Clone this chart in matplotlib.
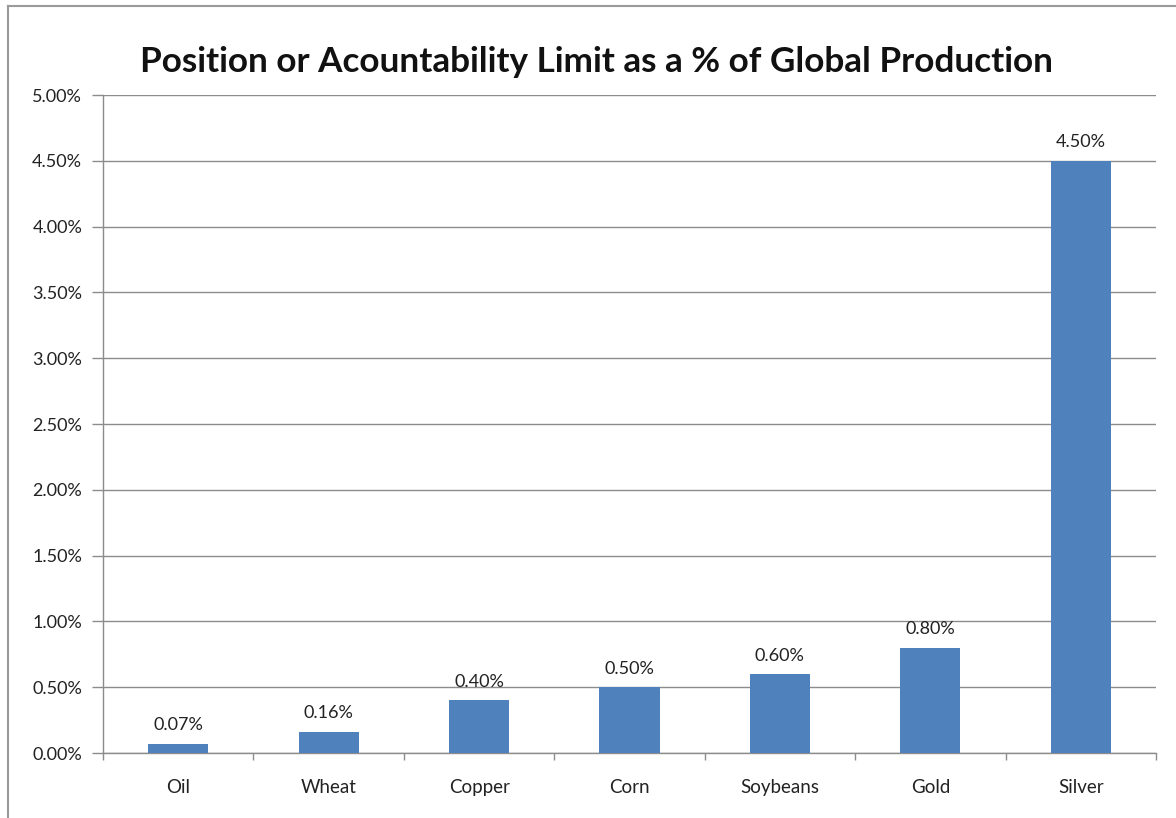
import matplotlib
matplotlib.use("Agg")
import matplotlib.pyplot as plt
from matplotlib.lines import Line2D
import numpy as np

categories = ["Oil", "Wheat", "Copper", "Corn", "Soybeans", "Gold", "Silver"]
values = [0.07, 0.16, 0.40, 0.50, 0.60, 0.80, 4.50]
y_ticks = [0.0, 0.5, 1.0, 1.5, 2.0, 2.5, 3.0, 3.5, 4.0, 4.5, 5.0]
title = "Position or Acountability Limit as a % of Global Production"

plt.rcParams['font.family'] = ['Lato', 'DejaVu Sans']

fig = plt.figure(figsize=(11.76, 8.18), dpi=100)
ax = fig.add_axes([103/1176, 1-753/818, (1156-103)/1176, (753-95)/818])

x = np.arange(len(categories))
bars = ax.bar(x, values, width=0.4, color="#4F81BD", zorder=3)
for xi, v in zip(x, values):
    ax.text(xi, v + 0.08, f"{v:.2f}%", ha="center", va="bottom", fontsize=13, color="#222222")

ax.set_xlim(-0.5, len(categories) - 0.5)
ax.set_ylim(0, 5.0)
ax.set_yticks(y_ticks)
ax.set_yticklabels([f"{t:.2f}%" for t in y_ticks], fontsize=13, color="#222222")
ax.yaxis.grid(True, color="#8c8c8c", linewidth=1.0, zorder=0)
ax.set_axisbelow(True)
ax.tick_params(axis="y", length=8, width=1, color="#8c8c8c", pad=7)

ax.set_xticks(x)
ax.set_xticklabels(categories, fontsize=13.5, color="#222222")
ax.tick_params(axis="x", length=0, pad=19)
# category separator ticks
ax.set_xticks(np.arange(-0.5, len(categories), 1.0), minor=True)
ax.tick_params(axis="x", which="minor", length=5, width=1, color="#8c8c8c")

for s in ["top", "right"]:
    ax.spines[s].set_visible(False)
for s in ["left", "bottom"]:
    ax.spines[s].set_color("#8c8c8c")
    ax.spines[s].set_linewidth(1.0)

fig.text(597/1176, 1-62/818, title, ha="center", va="center", fontsize=25.3, fontweight="bold", color="#111111")

# chart border (left and top visible)
fig.add_artist(Line2D([8/1176, 8/1176], [0, 1-6/818], color="#9a9a9a", linewidth=1.5, transform=fig.transFigure))
fig.add_artist(Line2D([8/1176, 1], [1-6/818, 1-6/818], color="#9a9a9a", linewidth=1.5, transform=fig.transFigure))

fig.savefig("out.png", dpi=100, facecolor="white")
